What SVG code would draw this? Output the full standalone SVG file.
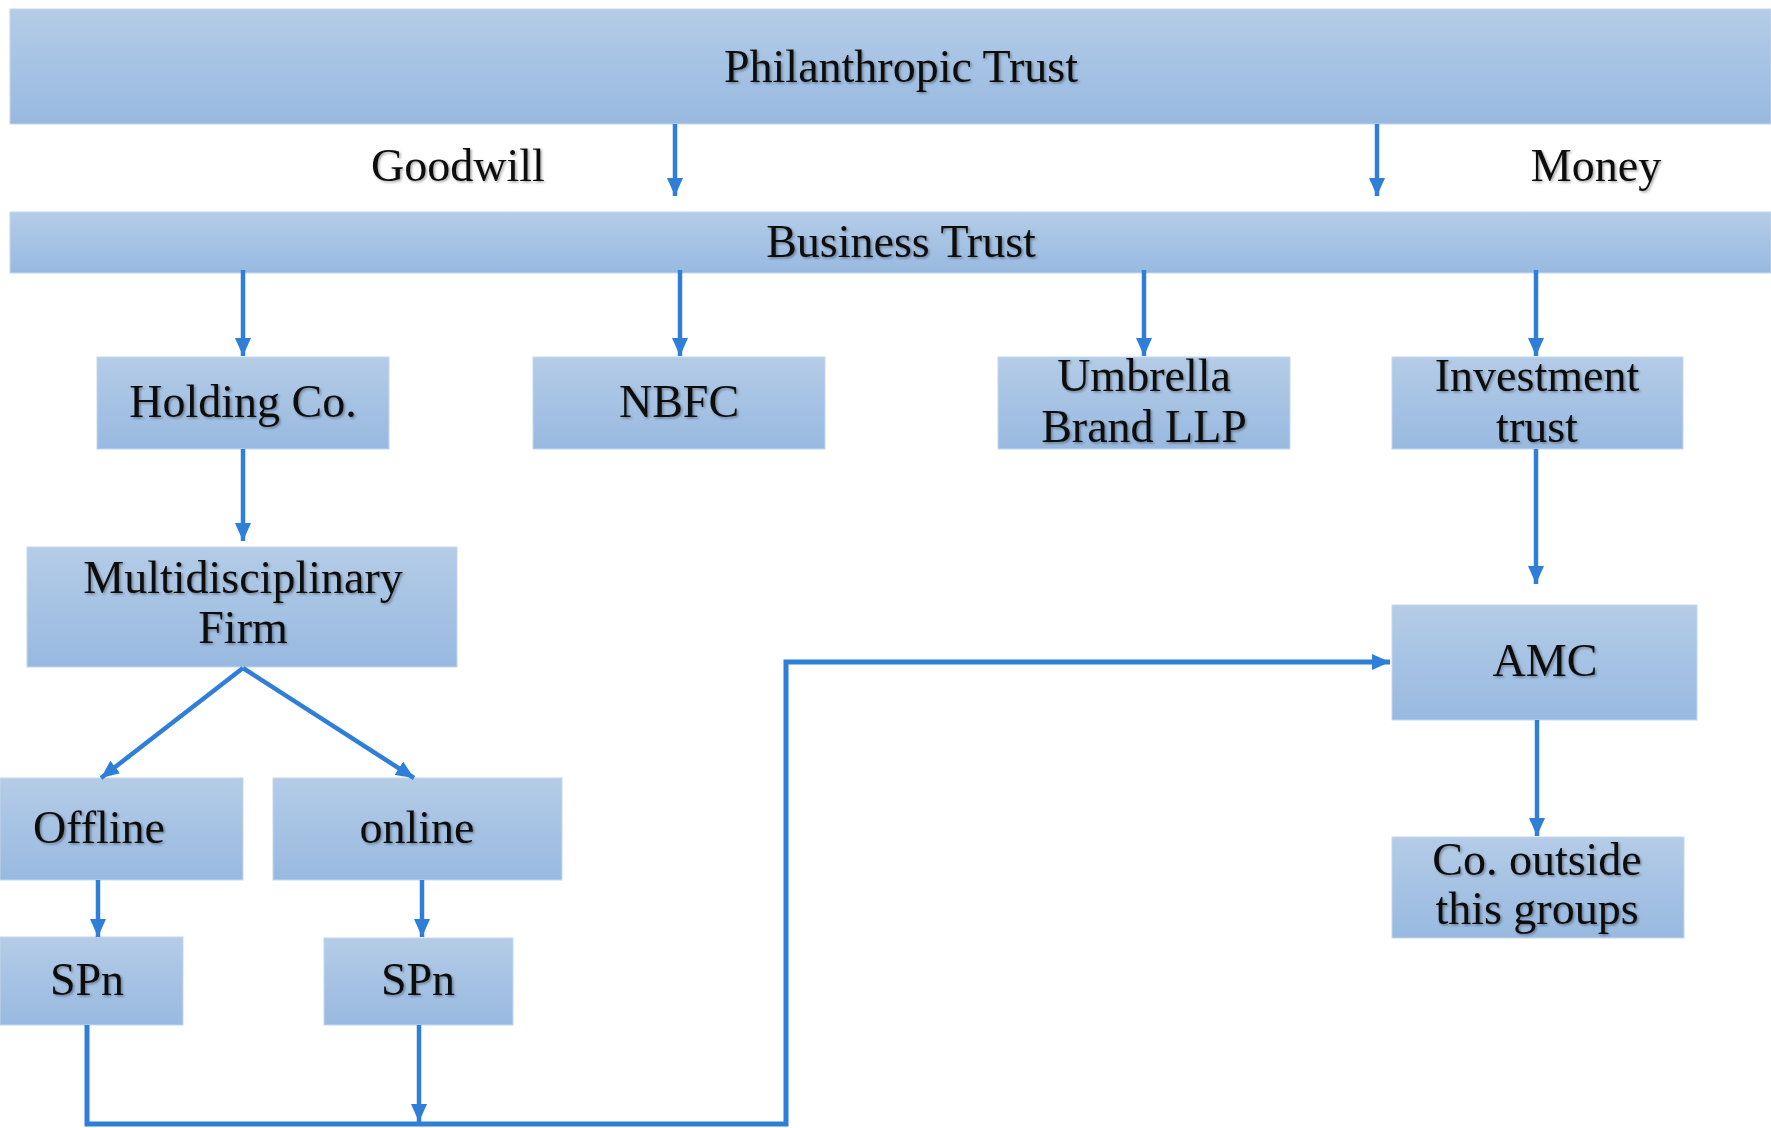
<svg xmlns="http://www.w3.org/2000/svg" width="1771" height="1128" viewBox="0 0 1771 1128">
<defs>
<linearGradient id="g" x1="0" y1="0" x2="0" y2="1">
<stop offset="0" stop-color="#b4cce7"/>
<stop offset="1" stop-color="#98b9e0"/>
</linearGradient>
<filter id="sh" x="-10%" y="-20%" width="120%" height="140%">
<feDropShadow dx="1.5" dy="1.5" stdDeviation="1" flood-color="#000" flood-opacity="0.35"/>
</filter>
<marker id="ah" viewBox="0 0 18 16" refX="18" refY="8" markerWidth="18" markerHeight="16" markerUnits="userSpaceOnUse" orient="auto">
<path d="M0,0 L18,8 L0,16 z" fill="#2f7fd8"/>
</marker>
</defs>
<style>
.box{fill:url(#g);stroke:#c4d7ee;stroke-width:1}
.t{font-family:"Liberation Serif","Times New Roman",serif;font-size:46px;fill:#111;text-anchor:middle;filter:url(#sh)}
.c{stroke:#2f7fd8;stroke-width:4.5;fill:none}
.cb{stroke:#2f7fd8;stroke-width:5;fill:none}
</style>
<rect width="1771" height="1128" fill="#fff"/>

<g id="philanthropic-trust">
<rect class="box" x="10" y="9" width="1761" height="115"/>
<text class="t" x="901" y="82">Philanthropic Trust</text>
</g>
<g id="label-goodwill"><text class="t" x="458" y="181">Goodwill</text></g>
<g id="label-money"><text class="t" x="1596" y="181">Money</text></g>
<g id="business-trust">
<rect class="box" x="10" y="212" width="1761" height="61"/>
<text class="t" x="901" y="257">Business Trust</text>
</g>
<g id="holding-co">
<rect class="box" x="97" y="357" width="292" height="92"/>
<text class="t" x="243" y="417">Holding Co.</text>
</g>
<g id="nbfc">
<rect class="box" x="533" y="357" width="292" height="92"/>
<text class="t" x="679" y="417">NBFC</text>
</g>
<g id="umbrella-brand-llp">
<rect class="box" x="998" y="357" width="292" height="92"/>
<text class="t" x="1144" y="391">Umbrella</text>
<text class="t" x="1144" y="442">Brand LLP</text>
</g>
<g id="investment-trust">
<rect class="box" x="1392" y="357" width="291" height="92"/>
<text class="t" x="1537" y="391">Investment</text>
<text class="t" x="1537" y="442">trust</text>
</g>
<g id="multidisciplinary-firm">
<rect class="box" x="27" y="547" width="430" height="120"/>
<text class="t" x="243" y="593">Multidisciplinary</text>
<text class="t" x="243" y="643">Firm</text>
</g>
<g id="offline">
<rect class="box" x="0" y="778" width="243" height="102"/>
<text class="t" x="99" y="843">Offline</text>
</g>
<g id="online">
<rect class="box" x="273" y="778" width="289" height="102"/>
<text class="t" x="417" y="843">online</text>
</g>
<g id="spn-left">
<rect class="box" x="0" y="937" width="183" height="88"/>
<text class="t" x="87" y="995">SPn</text>
</g>
<g id="spn-right">
<rect class="box" x="324" y="938" width="189" height="87"/>
<text class="t" x="418" y="995">SPn</text>
</g>
<g id="amc">
<rect class="box" x="1392" y="605" width="305" height="115"/>
<text class="t" x="1545" y="676">AMC</text>
</g>
<g id="co-outside">
<rect class="box" x="1392" y="837" width="292" height="101"/>
<text class="t" x="1537" y="875">Co. outside</text>
<text class="t" x="1537" y="924">this groups</text>
</g>

<g id="connectors">
<line class="c" x1="675" y1="124" x2="675" y2="196" marker-end="url(#ah)"/>
<line class="c" x1="1377" y1="124" x2="1377" y2="196" marker-end="url(#ah)"/>
<line class="c" x1="243" y1="270" x2="243" y2="356" marker-end="url(#ah)"/>
<line class="c" x1="680" y1="270" x2="680" y2="356" marker-end="url(#ah)"/>
<line class="c" x1="1144" y1="270" x2="1144" y2="356" marker-end="url(#ah)"/>
<line class="c" x1="1536" y1="270" x2="1536" y2="356" marker-end="url(#ah)"/>
<line class="c" x1="243" y1="449" x2="243" y2="541" marker-end="url(#ah)"/>
<line class="c" x1="1536" y1="449" x2="1536" y2="584" marker-end="url(#ah)"/>
<line class="c" x1="243" y1="668" x2="101" y2="778" marker-end="url(#ah)"/>
<line class="c" x1="243" y1="668" x2="414" y2="778" marker-end="url(#ah)"/>
<line class="c" x1="98" y1="880" x2="98" y2="937" marker-end="url(#ah)"/>
<line class="c" x1="422" y1="880" x2="422" y2="937" marker-end="url(#ah)"/>
<line class="c" x1="1537" y1="720" x2="1537" y2="836" marker-end="url(#ah)"/>
<line class="c" x1="419" y1="1025" x2="419" y2="1122" marker-end="url(#ah)"/>
<path class="cb" d="M87,1025 V1124 H786 V662 H1390" marker-end="url(#ah)"/>
</g>
</svg>
